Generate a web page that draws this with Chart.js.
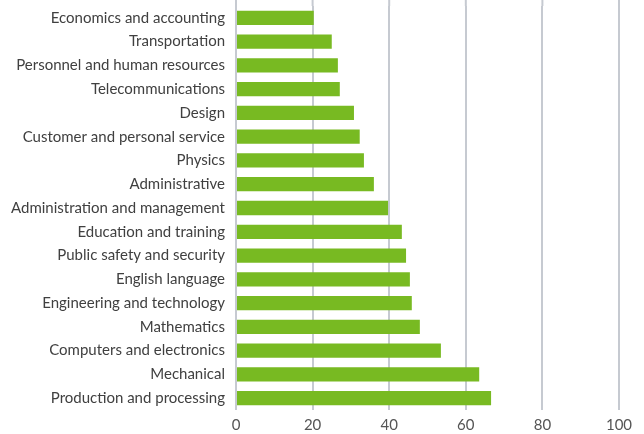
<!DOCTYPE html>
<html>
<head>
<meta charset="utf-8">
<script src="https://cdn.jsdelivr.net/npm/chart.js@4/dist/chart.umd.min.js"></script>
<style>
  html, body { margin: 0; padding: 0; background: #fff; }
  #wrap { width: 644px; height: 434px; position: relative; }
</style>
</head>
<body>
<div id="wrap"><canvas id="chart"></canvas></div>
<script>
// Knowledge areas, top to bottom
const categories = [
  'Economics and accounting',
  'Transportation',
  'Personnel and human resources',
  'Telecommunications',
  'Design',
  'Customer and personal service',
  'Physics',
  'Administrative',
  'Administration and management',
  'Education and training',
  'Public safety and security',
  'English language',
  'Engineering and technology',
  'Mathematics',
  'Computers and electronics',
  'Mechanical',
  'Production and processing',
];
const values = [20.3, 25.0, 26.6, 27.1, 30.8, 32.3, 33.4, 36.0, 39.7, 43.3, 44.4, 45.4, 45.9, 48.0, 53.5, 63.5, 66.6];
const xTicks = [0, 20, 40, 60, 80, 100];

const textColor = '#404040';
const gridColor = '#c6cad1';

// grid lines in the reference run up to the very top of the picture
const gridToTop = {
  id: 'gridToTop',
  beforeDatasetsDraw(chart) {
    const { ctx, chartArea, scales } = chart;
    ctx.save();
    ctx.strokeStyle = gridColor;
    ctx.lineWidth = 2;
    xTicks.forEach(v => {
      const x = scales.x.getPixelForValue(v);
      ctx.beginPath();
      ctx.moveTo(x, 0);
      ctx.lineTo(x, chartArea.top);
      ctx.stroke();
    });
    ctx.restore();
  },
};

new Chart(document.getElementById('chart').getContext('2d'), {
  type: 'bar',
  data: {
    labels: categories,
    datasets: [{
      data: values,
      backgroundColor: '#78ba22',
      barPercentage: 0.6,
      categoryPercentage: 1,
    }],
  },
  options: {
    indexAxis: 'y',
    responsive: true,
    maintainAspectRatio: false,
    animation: false,
    layout: { padding: { top: 6, right: 25, bottom: 0, left: 0 } },
    plugins: {
      legend: { display: false },
      tooltip: { enabled: false },
    },
    scales: {
      x: {
        min: 0,
        max: 100,
        afterBuildTicks: (scale) => { scale.ticks = xTicks.map(v => ({ value: v })); },
        afterFit: (scale) => { scale.height = 24; },
        grid: { color: gridColor, lineWidth: 2, drawTicks: false },
        border: { display: false },
        ticks: {
          color: '#555',
          font: { family: 'Lato', size: 15 },
          padding: 6,
        },
      },
      y: {
        afterFit: (scale) => {
          scale.width = 236;
          scale.paddingTop = 0;
          scale.paddingBottom = 0;
        },
        grid: { display: false, drawTicks: false },
        border: { display: false },
        ticks: {
          color: textColor,
          font: { family: 'Lato', size: 15 },
          padding: 11,
          autoSkip: false,
        },
      },
    },
  },
  plugins: [gridToTop],
});
</script>
</body>
</html>
